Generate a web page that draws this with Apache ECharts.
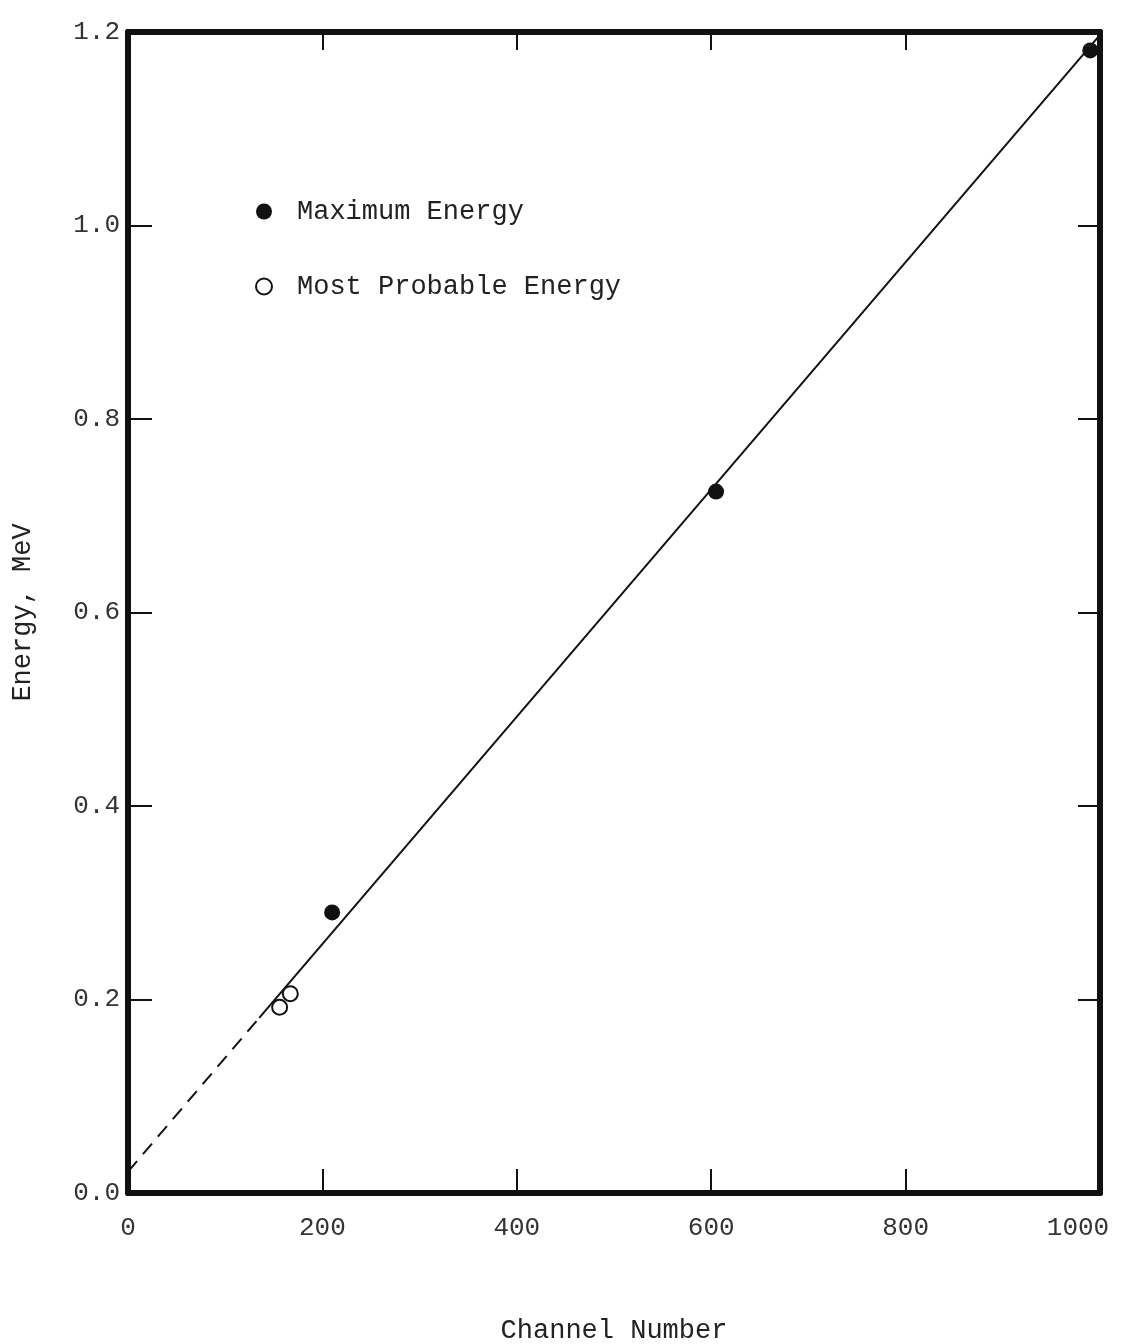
<!DOCTYPE html>
<html>
<head>
<meta charset="utf-8">
<script src="https://cdn.jsdelivr.net/npm/echarts@6/dist/echarts.min.js"></script>
<style>
  html, body { margin: 0; padding: 0; background: #fff; }
  #main { width: 1124px; height: 1344px; }
</style>
</head>
<body>
<div id="main"></div>
<script>
// data
var maxEnergy = [[210, 0.29], [605, 0.725], [990, 1.181]];
var probEnergy = [[156, 0.192], [167, 0.206]];
var fitSolid = [[135, 0.181], [1000, 1.197]];
var fitDashed = [[0, 0.022], [135, 0.181]];

var FONT = '"Liberation Mono", "DejaVu Sans Mono", monospace';
var INK = '#111';

var myChart = echarts.init(document.getElementById('main'));

function frameAxis(extra) {
    return Object.assign({
        type: 'value',
        axisLine: { show: true, onZero: false, lineStyle: { color: INK, width: 6 } },
        splitLine: { show: false }
    }, extra);
}

myChart.setOption({
    backgroundColor: '#ffffff',
    animation: false,
    grid: { left: 128, right: 24, top: 32, bottom: 151, outerBoundsMode: 'none' },
    legend: {
        orient: 'vertical',
        left: 250,
        top: 193,
        itemGap: 48,
        itemWidth: 16,
        itemHeight: 16,
        textStyle: { fontFamily: FONT, fontSize: 27, color: '#222', padding: [0, 0, 0, 20] },
        data: [
            { name: 'Maximum Energy', icon: 'circle', itemStyle: { color: INK, opacity: 1 } },
            { name: 'Most Probable Energy', icon: 'circle',
              itemStyle: { color: '#fff', borderColor: INK, borderWidth: 2, opacity: 1 } }
        ]
    },
    xAxis: [
        frameAxis({
            min: 0, max: 1000, interval: 200,
            position: 'bottom',
            name: 'Channel Number',
            nameLocation: 'middle',
            nameGap: 124,
            nameTextStyle: { fontFamily: FONT, fontSize: 27, color: '#222' },
            axisTick: { show: true, inside: true, length: 24, lineStyle: { color: INK, width: 2 } },
            axisLabel: {
                fontFamily: FONT, fontSize: 26, color: '#333', margin: 22,
                formatter: function (v) { return v === 1000 ? '{m|1000}' : String(v); },
                rich: { m: { fontFamily: FONT, fontSize: 26, color: '#333', padding: [0, 44, 0, 0] } }
            }
        }),
        frameAxis({
            min: 0, max: 1000, interval: 200,
            position: 'top',
            axisTick: { show: true, inside: true, length: 18, lineStyle: { color: INK, width: 2 } },
            axisLabel: { show: false }
        })
    ],
    yAxis: [
        frameAxis({
            min: 0, max: 1.2, interval: 0.2,
            position: 'left',
            name: 'Energy, MeV',
            nameLocation: 'middle',
            nameGap: 92,
            nameTextStyle: { fontFamily: FONT, fontSize: 27, color: '#222' },
            axisTick: { show: true, inside: true, length: 24, lineStyle: { color: INK, width: 2 } },
            axisLabel: {
                fontFamily: FONT, fontSize: 26, color: '#333', margin: 8,
                formatter: function (v) { return v.toFixed(1); }
            }
        }),
        frameAxis({
            min: 0, max: 1.2, interval: 0.2,
            position: 'right',
            axisTick: { show: true, inside: true, length: 22, lineStyle: { color: INK, width: 2 } },
            axisLabel: { show: false }
        })
    ],
    series: [
        {
            name: 'fit',
            type: 'line',
            data: fitSolid,
            symbol: 'none',
            lineStyle: { color: INK, width: 2 },
            z: 2
        },
        {
            name: 'fit extrapolated',
            type: 'line',
            data: fitDashed,
            symbol: 'none',
            lineStyle: { color: INK, width: 2, type: [14, 9] },
            z: 2
        },
        {
            name: 'Maximum Energy',
            type: 'scatter',
            data: maxEnergy,
            symbol: 'circle',
            symbolSize: 16,
            itemStyle: { color: INK, opacity: 1 },
            z: 3
        },
        {
            name: 'Most Probable Energy',
            type: 'scatter',
            data: probEnergy,
            symbol: 'circle',
            symbolSize: 15,
            itemStyle: { color: '#fff', borderColor: INK, borderWidth: 2, opacity: 1 },
            z: 3
        }
    ]
});
</script>
</body>
</html>
